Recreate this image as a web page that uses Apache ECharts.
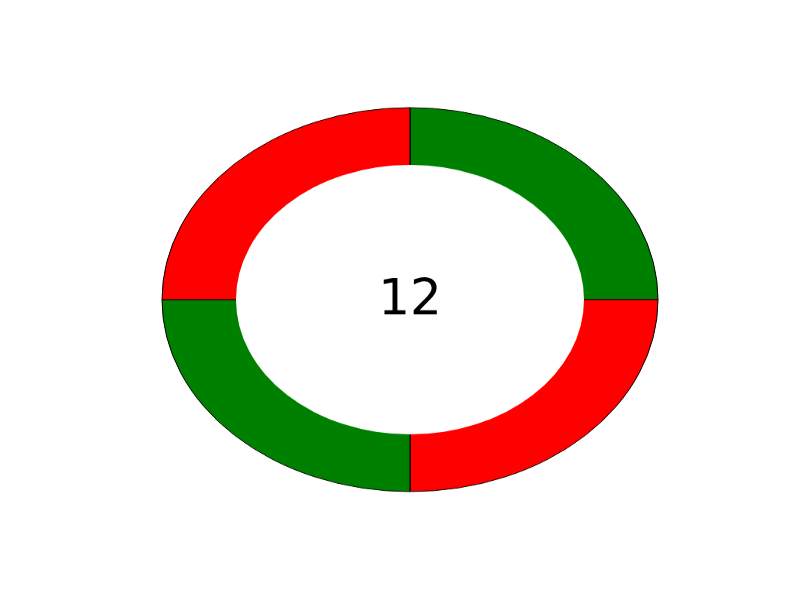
<!DOCTYPE html>
<html>
<head>
<meta charset="utf-8">
<script src="https://cdn.jsdelivr.net/npm/echarts@6/dist/echarts.min.js"></script>
<style>
html,body{margin:0;padding:0;background:#fff;overflow:hidden;}
#wrap{width:800px;height:600px;position:relative;overflow:hidden;}
#chart{position:absolute;left:0;top:0;width:800px;transform-origin:0 0;}
</style>
</head>
<body>
<div id="wrap"><div id="chart"></div></div>
<script>
const sliceNames = ['A', 'B', 'C', 'D'];
const sliceValues = [3, 3, 3, 3];
const sliceColors = ['#008000', '#ff0000', '#008000', '#ff0000'];
const centerLabel = '12';

const S = 192 / 248;          // vertical squash to draw an ellipse
const H = 600 / S;
const el = document.getElementById('chart');
el.style.height = H + 'px';
el.style.transform = 'scaleY(' + S + ')';

const chart = echarts.init(el, null, {renderer: 'canvas', width: 800, height: H});
const cx = 410, cy = 299.6 / S;
chart.setOption({
  animation: false,
  series: [
    {
      type: 'pie',
      center: [cx, cy],
      radius: [0, 248],
      startAngle: 90,
      clockwise: true,
      silent: true,
      label: {show: false},
      labelLine: {show: false},
      itemStyle: {borderColor: '#000', borderWidth: 1},
      data: sliceValues.map((v, i) => ({name: sliceNames[i], value: v, itemStyle: {color: sliceColors[i]}}))
    },
    {
      type: 'pie',
      center: [cx, cy],
      radius: [0, 174],
      silent: true,
      z: 3,
      label: {show: false},
      labelLine: {show: false},
      itemStyle: {color: '#fff', borderWidth: 0},
      data: [{name: 'hole', value: 1}]
    }
  ],
  graphic: [{
    type: 'text',
    x: cx,
    y: 301.5 / S,
    scaleY: 1 / S,
    z: 10,
    style: {
      text: centerLabel,
      fontFamily: 'DejaVu Sans',
      fontSize: 50,
      fill: '#000',
      textAlign: 'center',
      textVerticalAlign: 'middle'
    }
  }]
});
</script>
</body>
</html>
